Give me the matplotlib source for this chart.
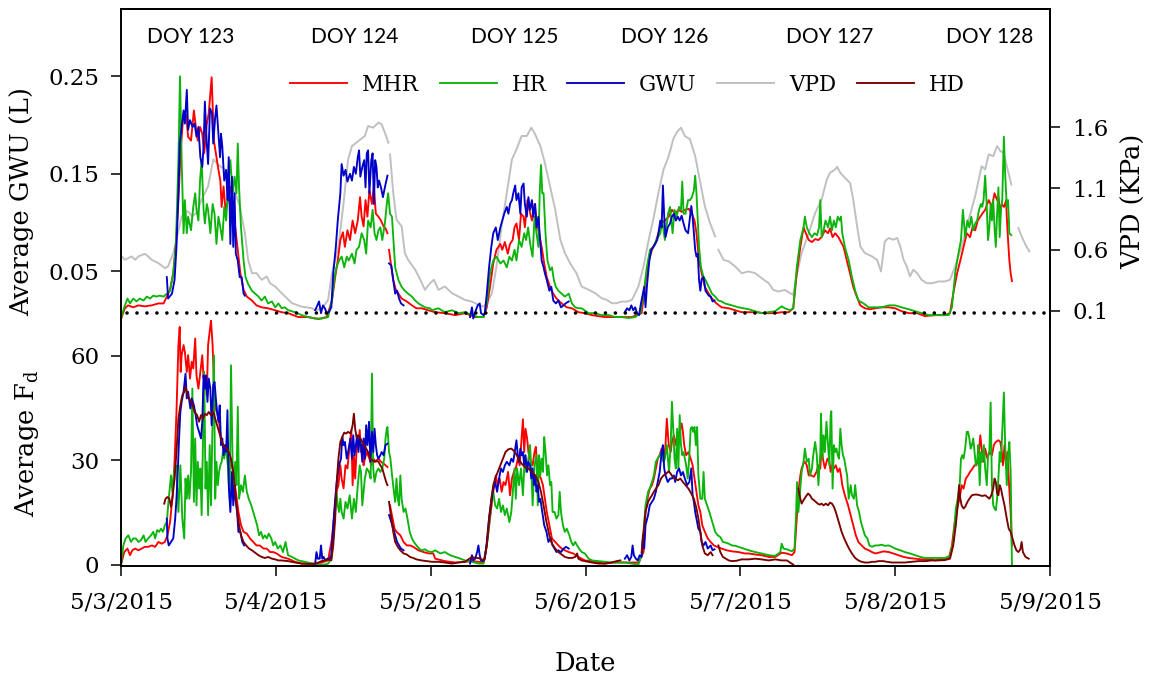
import numpy as np
import matplotlib
matplotlib.use("Agg")
import matplotlib.pyplot as plt
import matplotlib.transforms as mtransforms

nan = float("nan")

# hours since 5/3/2015 00:00 and value; nan marks a gap in the record
# ---- top panel: VPD (KPa)
vpd = [(0.1, .545), (0.6, .517), (1.65, .545), (2.2, .517), (2.7, .545), (3.7, .566), (4.2, .545),
       (4.75, .517), (5.8, .49), (6.8, .449), (7.3, .463), (8.1, .572), (8.6, .681), (9.4, .872),
       (9.9, .899), (10.4, .913), (11.0, .872), (11.7, .899), (12.5, 1.008), (13.5, 1.117),
       (14.3, 1.336), (14.8, 1.308), (15.35, 1.281), (16.1, 1.254), (16.9, 1.145), (17.7, 1.063),
       (18.4, .954), (19.2, .736), (19.7, .517), (20.3, .408), (21.0, .408), (21.8, .354),
       (22.6, .381), (23.1, .326), (23.9, .299), (24.9, .245), (26.5, .163), (28.0, .135),
       (29.6, .122), (30.1, .108), (31.1, .114), (32.1, .19), (32.7, .408), (33.7, .626),
       (34.5, .981), (35.2, 1.336), (35.8, 1.445), (36.8, 1.486), (37.8, 1.527), (38.3, 1.608),
       (39.1, 1.595), (39.9, 1.636), (40.4, 1.622), (40.9, 1.554), (41.45, 1.472), (41.6, nan),
       (41.7, 1.377), (42.2, 1.063), (42.7, .845), (43.5, .79), (44.0, .572), (44.5, .517),
       (45.6, .436), (46.4, .354), (47.1, .272), (47.9, .326), (48.5, .354), (49.2, .272),
       (50.2, .299), (51.3, .245), (52.3, .217), (53.3, .19), (54.4, .176), (55.4, .149),
       (56.2, .135), (56.7, .163), (57.5, .245), (58.2, .463), (59.0, .79), (59.8, 1.063),
       (60.6, 1.336), (61.3, 1.418), (62.1, 1.527), (62.9, 1.527), (63.6, 1.595), (64.2, 1.54),
       (65.0, 1.445), (65.7, 1.308), (66.5, 1.117), (67.3, .927), (68.1, .681), (68.8, .572),
       (69.6, .49), (70.6, .408), (71.4, .299), (72.5, .272), (73.5, .245), (74.5, .204),
       (75.3, .19), (76.1, .163), (76.8, .163), (77.6, .176), (78.4, .176), (79.2, .19),
       (80.2, .299), (81.0, .463), (81.8, .681), (82.5, .845), (83.3, 1.063), (84.1, 1.254),
       (84.9, 1.363), (85.6, 1.5), (86.1, 1.554), (86.8, 1.595), (87.4, 1.527), (88.2, 1.5),
       (89.0, 1.363), (89.8, 1.145), (90.5, .954), (91.3, .817), (92.1, .708), (92.3, nan),
       (92.6, .599), (93.4, .517), (94.2, .504), (95.2, .463), (96.2, .408), (97.3, .422),
       (98.3, .408), (99.3, .367), (100.4, .326), (101.1, .272), (101.9, .258), (102.9, .272),
       (103.7, .245), (104.2, .231), (104.7, .381), (105.5, .572), (106.6, .736), (107.6, .899),
       (108.6, 1.008), (109.4, 1.172), (109.9, 1.227), (110.7, 1.254), (111.0, 1.276),
       (111.5, 1.227), (112.2, 1.186), (113.0, 1.145), (113.5, 1.008), (114.1, .79), (114.6, .626),
       (115.3, .572), (116.4, .545), (117.2, .517), (117.8, .422), (118.4, .667), (119.0, .695),
       (119.7, .681), (120.3, .695), (120.8, .626), (121.3, .517), (121.8, .463), (122.3, .381),
       (122.8, .436), (123.4, .408), (124.1, .354), (124.9, .326), (125.7, .326), (126.7, .34),
       (127.7, .34), (128.5, .354), (129.3, .463), (130.3, .626), (131.4, .845), (132.4, 1.036),
       (133.4, 1.281), (133.95, 1.254), (134.5, 1.377), (135.2, 1.363), (135.8, 1.445),
       (136.3, 1.404), (136.8, 1.39), (137.3, 1.281), (138.0, 1.131), (138.5, nan),
       (139.1, .776), (139.6, .708), (140.2, .64), (140.8, .586)]

# ---- top panel: average GWU (L)
gwu_mhr = [(0.0, .001), (0.6, .012), (1.1, .015), (1.9, .013), (2.7, .015), (3.7, .014), (4.75, .015),
           (5.8, .017), (6.6, .017), (7.1, .024), (7.6, .031), (8.1, .048), (8.5, .078), (8.9, .123),
           (9.25, .174), (9.6, .205), (9.8, .212), (10.1, .21), (10.4, .188), (10.85, .184),
           (11.3, .215), (11.6, .198), (11.9, .184), (12.25, .198), (12.6, .191), (12.9, .171),
           (13.3, .201), (13.6, .212), (14.05, .249), (14.4, .184), (14.7, .171), (15.1, .154),
           (15.4, .143), (15.6, .116), (15.9, .137), (16.2, .113), (16.6, .123), (17.05, .137),
           (17.4, .113), (17.8, .089), (18.1, .072), (18.5, .048), (19.0, .031), (19.5, .024),
           (20.3, .02), (21.0, .015), (21.8, .013), (22.8, .012), (23.9, .01), (24.9, .008),
           (25.9, .007), (27.5, .003), (29.0, .003), (30.6, .001), (31.9, .003), (32.7, .02),
           (33.2, .044), (33.6, .061), (34.0, .082), (34.4, .09), (34.7, .075), (35.1, .092),
           (35.5, .082), (35.9, .102), (36.3, .089), (36.7, .102), (37.05, .126), (37.3, .106),
           (37.6, .096), (37.9, .123), (38.2, .106), (38.5, .133), (38.9, .119), (39.2, .137),
           (39.5, .109), (39.9, .106), (40.3, .102), (40.7, .096), (41.0, .094), (41.3, .089),
           (41.45, nan), (41.55, .072), (41.9, .054), (42.2, .041), (42.6, .031), (43.0, .027),
           (43.5, .022), (44.3, .019), (45.1, .015), (45.8, .012), (46.6, .012), (47.6, .01),
           (48.7, .008), (50.2, .007), (51.8, .005), (53.3, .007), (54.9, .003), (56.2, .003),
           (56.7, .013), (57.2, .034), (57.7, .058), (58.2, .072), (58.8, .078), (59.1, .072),
           (59.5, .08), (59.95, .068), (60.3, .078), (60.7, .082), (61.0, .095), (61.3, .099),
           (61.7, .082), (62.0, .109), (62.4, .106), (62.6, .095), (63.0, .123), (63.3, .113),
           (63.7, .102), (64.1, .119), (64.4, .102), (64.8, .089), (65.2, .075), (65.6, .058),
           (66.0, .044), (66.5, .034), (67.0, .027), (67.5, .022), (68.3, .017), (69.1, .013),
           (69.9, .012), (70.9, .008), (71.9, .007), (73.0, .005), (75.0, .003), (77.1, .003),
           (79.2, .003), (80.7, .007), (81.2, .034), (81.8, .061), (82.3, .072), (82.8, .078),
           (83.3, .089), (83.8, .099), (84.3, .102), (84.9, .106), (85.4, .113), (85.9, .109),
           (86.4, .113), (86.9, .111), (87.4, .113), (88.0, .114), (88.5, .109), (88.9, .102),
           (89.2, .089), (89.6, .061), (90.0, .048), (90.5, .034), (91.1, .027), (91.6, .022),
           (92.3, .017), (93.1, .013), (94.2, .012), (95.2, .01), (96.2, .008), (98.3, .008),
           (99.8, .007), (101.4, .007), (102.4, .008), (103.5, .008), (104.2, .012), (104.75, .048),
           (105.3, .075), (105.8, .095), (106.15, .089), (106.6, .082), (107.1, .08), (107.6, .083),
           (108.1, .082), (108.6, .085), (109.1, .092), (109.6, .089), (109.9, .094), (110.3, .085),
           (110.7, .089), (111.2, .085), (111.6, .08), (112.0, .075), (112.5, .061), (113.0, .048),
           (113.5, .034), (114.05, .024), (114.6, .015), (115.3, .012), (116.1, .011), (116.9, .012),
           (117.9, .013), (119.0, .013), (120.0, .012), (121.0, .009), (122.1, .007), (123.4, .007),
           (124.6, .004), (126.2, .005), (127.7, .005), (128.5, .007), (129.0, .027), (129.6, .048),
           (130.1, .061), (130.6, .075), (131.1, .089), (131.6, .085), (132.0, .095), (132.4, .092),
           (132.8, .102), (133.2, .106), (133.5, .109), (133.95, .113), (134.5, .123), (135.0, .116),
           (135.4, .13), (135.8, .123), (136.0, .126), (136.3, .109), (136.5, .119), (136.9, .116),
           (137.2, .123), (137.3, .106), (137.5, .082), (137.7, .061), (137.9, .048), (138.1, .04)]

gwu_hr = [(0.0, .0015), (0.5, .013), (1.0, .022), (1.4, .017), (1.9, .022), (2.4, .019), (2.9, .022),
          (3.5, .02), (4.0, .024), (4.5, .022), (5.0, .025), (5.5, .024), (6.0, .025), (6.6, .024),
          (7.1, .027), (7.6, .03), (8.1, .048), (8.5, .075), (8.9, .164), (9.15, .25), (9.4, .164),
          (9.7, .089), (9.9, .123), (10.2, .089), (10.4, .106), (10.85, .092), (11.2, .116),
          (11.5, .13), (11.7, .113), (12.0, .102), (12.25, .143), (12.5, .164), (12.8, .113),
          (13.0, .099), (13.3, .119), (13.5, .113), (13.85, .089), (14.2, .119), (14.5, .109),
          (14.8, .078), (15.1, .106), (15.4, .095), (15.7, .082), (16.0, .116), (16.3, .102),
          (16.6, .136), (16.95, .164), (17.3, .13), (17.6, .147), (17.9, .13), (18.1, .181),
          (18.3, .136), (18.6, .095), (19.0, .061), (19.3, .044), (19.7, .037), (20.3, .03),
          (20.8, .027), (21.3, .024), (21.8, .02), (22.3, .024), (22.8, .017), (23.4, .019),
          (23.9, .013), (24.4, .017), (24.9, .012), (25.4, .013), (25.9, .01), (27.0, .008),
          (28.0, .005), (29.0, .003), (30.1, .0015), (31.1, .0015), (32.1, .003), (32.7, .02),
          (33.1, .044), (33.4, .054), (33.8, .061), (34.2, .065), (34.6, .054), (35.0, .065),
          (35.3, .061), (35.8, .068), (36.2, .058), (36.5, .072), (36.9, .075), (37.3, .089),
          (37.7, .082), (38.0, .068), (38.3, .102), (38.7, .095), (39.0, .113), (39.3, .089),
          (39.6, .082), (39.9, .092), (40.2, .095), (40.5, .082), (40.9, .099), (41.2, .119),
          (41.4, .13), (41.7, .109), (42.0, .106), (42.5, .054), (43.0, .041), (43.5, .034),
          (44.0, .03), (44.5, .027), (45.1, .024), (45.6, .02), (46.1, .017), (46.6, .015),
          (47.1, .013), (47.9, .012), (48.2, .01), (49.2, .012), (50.2, .008), (51.3, .01),
          (52.3, .007), (53.3, .008), (54.4, .005), (55.4, .003), (56.2, .003), (56.7, .017),
          (57.2, .048), (57.7, .061), (58.2, .065), (58.8, .058), (59.3, .061), (59.8, .054),
          (60.2, .065), (60.6, .061), (61.0, .072), (61.3, .061), (61.7, .082), (62.1, .075),
          (62.5, .089), (62.8, .082), (63.1, .095), (63.5, .075), (63.8, .065), (64.1, .106),
          (64.4, .089), (64.7, .075), (64.9, .13), (65.1, .159), (65.3, .13), (65.5, .13),
          (65.8, .089), (66.1, .061), (66.5, .051), (66.8, .054), (67.1, .041), (67.4, .034),
          (67.8, .03), (68.3, .027), (68.8, .024), (69.4, .027), (69.9, .017), (70.4, .013),
          (70.9, .012), (71.4, .012), (72.5, .007), (73.5, .007), (74.5, .005), (75.6, .005),
          (76.6, .003), (77.6, .003), (78.7, .002), (79.7, .003), (80.5, .007), (81.0, .027),
          (81.5, .054), (82.0, .072), (82.5, .075), (83.0, .082), (83.6, .089), (83.9, .102),
          (84.3, .082), (84.8, .109), (85.1, .116), (85.5, .089), (85.8, .113), (86.1, .106),
          (86.5, .116), (86.8, .113), (87.0, .142), (87.2, .109), (87.5, .109), (87.9, .123),
          (88.2, .123), (88.5, .126), (88.8, .133), (89.0, .148), (89.2, .13), (89.4, .102),
          (89.6, .075), (89.9, .054), (90.3, .044), (90.6, .041), (91.1, .034), (91.6, .027),
          (92.1, .024), (92.6, .02), (93.1, .019), (93.6, .017), (94.7, .015), (95.7, .013),
          (97.3, .011), (98.3, .009), (99.3, .007), (100.4, .008), (101.4, .009), (102.4, .014),
          (102.9, .012), (103.7, .01), (104.2, .012), (104.75, .054), (105.3, .082), (105.8, .095),
          (106.0, .106), (106.3, .095), (106.7, .089), (107.1, .085), (107.5, .089), (107.9, .087),
          (108.2, .095), (108.4, .123), (108.6, .085), (108.9, .092), (109.2, .102), (109.6, .095),
          (109.9, .106), (110.2, .092), (110.5, .102), (110.8, .095), (111.1, .106), (111.4, .102),
          (111.6, .106), (111.8, .089), (112.2, .075), (112.8, .061), (113.3, .044), (113.8, .03),
          (114.3, .02), (115.1, .017), (115.9, .013), (116.9, .013), (117.9, .013), (119.0, .015),
          (120.0, .015), (121.0, .013), (122.1, .011), (123.1, .009), (124.1, .007), (125.2, .005),
          (126.2, .005), (127.2, .005), (128.3, .005), (128.8, .013), (129.3, .048), (129.8, .068),
          (130.2, .082), (130.5, .113), (130.85, .085), (131.2, .102), (131.5, .095), (131.8, .106),
          (132.1, .092), (132.4, .099), (132.7, .102), (133.0, .113), (133.3, .119), (133.5, .116),
          (133.7, .123), (133.95, .148), (134.15, .123), (134.4, .082), (134.6, .095), (134.8, .119),
          (135.0, .102), (135.2, .123), (135.4, .095), (135.6, .075), (135.8, .109), (136.0, .136),
          (136.2, .085), (136.4, .113), (136.6, .123), (136.85, .188), (137.05, .15), (137.3, .116),
          (137.5, .123), (137.7, .089), (138.0, .087)]

gwu_gwu = [(7.1, .044), (7.3, .022), (7.9, .027), (8.3, .041), (8.6, .075), (8.9, .13), (9.1, .181),
           (9.4, .198), (9.7, .215), (9.9, .2015), (10.2, .236), (10.4, .195), (10.7, .205),
           (11.1, .198), (11.4, .2015), (11.7, .188), (12.0, .198), (12.3, .167), (12.6, .157),
           (12.8, .178), (13.0, .224), (13.3, .181), (13.5, .16), (13.8, .217), (14.1, .212),
           (14.3, .181), (14.6, .208), (14.8, .22), (15.1, .191), (15.35, .167), (15.5, .191),
           (15.7, .178), (16.0, .143), (16.3, .154), (16.5, .123), (16.7, .167), (16.95, .078),
           (17.2, .147), (17.4, .075), (17.6, .13), (17.8, .068), (18.1, .061), (18.4, .044),
           (18.7, .044), (19.0, .027), (19.2, .025), (19.5, nan),
           (30.1, .01), (30.3, .013), (30.7, .019), (31.0, .007), (31.3, .015), (31.6, .012),
           (31.9, .007), (32.2, .008), (32.6, .013), (32.9, .048), (33.3, .075), (33.6, .102),
           (34.0, .13), (34.2, .16), (34.5, .148), (34.8, .154), (35.1, .142), (35.5, .15),
           (35.8, .143), (36.1, .157), (36.4, .15), (36.7, .167), (36.9, .174), (37.1, .147),
           (37.4, .157), (37.7, .164), (37.9, .136), (38.1, .171), (38.3, .174), (38.5, .13),
           (38.8, .164), (39.0, .171), (39.2, .119), (39.4, .164), (39.6, .157), (39.8, .136),
           (40.0, .143), (40.3, .136), (40.6, .126), (40.9, .136), (41.3, .148), (41.45, nan),
           (41.55, .058), (41.9, .056), (42.2, .041), (42.5, .027), (42.8, .03), (43.1, .022),
           (43.4, .017), (43.8, .015), (44.0, nan),
           (54.1, .003), (54.4, .013), (54.6, .0015), (55.0, .01), (55.3, .015), (55.6, .017),
           (55.8, .007), (56.2, .005), (56.4, .007), (56.7, .027), (57.05, .054), (57.4, .075),
           (57.7, .089), (58.1, .095), (58.4, .082), (58.8, .095), (59.1, .102), (59.4, .109),
           (59.8, .116), (60.05, .109), (60.3, .119), (60.6, .123), (60.8, .13), (61.1, .138),
           (61.3, .123), (61.6, .13), (61.9, .109), (62.1, .136), (62.4, .14), (62.6, .119),
           (62.9, .106), (63.15, .126), (63.4, .113), (63.7, .123), (63.9, .106), (64.2, .119),
           (64.4, .095), (64.7, .106), (64.96, .082), (65.2, .061), (65.5, .054), (65.7, .048),
           (66.0, .041), (66.4, .03), (66.7, .034), (67.0, .02), (67.4, .017), (67.8, .02),
           (68.2, .013), (68.6, .015), (68.9, .017), (69.4, .019), (69.6, nan),
           (78.1, .008), (78.45, .012), (78.8, .01), (79.1, .015), (79.4, .01), (79.7, .013),
           (80.0, .007), (80.3, .005), (80.6, .017), (80.9, .027), (81.1, .034), (81.3, .013),
           (81.55, .037), (81.9, .061), (82.2, .072), (82.5, .075), (82.8, .078), (83.1, .082),
           (83.3, .089), (83.6, .102), (83.8, .095), (84.0, .138), (84.2, .106), (84.4, .085),
           (84.75, .095), (85.1, .099), (85.4, .106), (85.7, .109), (86.0, .102), (86.3, .106),
           (86.6, .102), (86.9, .107), (87.2, .099), (87.5, .092), (87.9, .089), (88.2, .106),
           (88.4, .117), (88.6, .106), (88.8, .089), (89.0, .072), (89.2, .065), (89.4, .068),
           (89.6, .041), (89.8, .03), (90.0, .042), (90.3, .044), (90.6, .03), (91.1, .025),
           (91.4, .024), (91.7, .019), (92.0, .02)]

# ---- bottom panel: average Fd
fd_mhr = [(0.0, 0), (0.5, 3.7), (1.0, 4.7), (1.4, 2.8), (1.75, 4.2), (2.2, 4.7), (2.7, 4.2), (3.2, 4.7),
          (3.7, 5.2), (4.2, 5.2), (4.8, 5.6), (5.3, 5.2), (5.8, 6.6), (6.3, 6.1), (6.8, 6.6), (7.2, 8.5),
          (7.6, 12.3), (8.0, 20.0), (8.3, 29.6), (8.6, 43.9), (8.9, 63.1), (9.1, 68.3), (9.25, 55.4),
          (9.4, 60.2), (9.7, 63.1), (9.9, 61.1), (10.2, 55.4), (10.4, 60.2), (10.7, 53.5),
          (10.96, 58.3), (11.2, 56.4), (11.5, 65.0), (11.7, 54.4), (12.0, 50.6), (12.3, 55.4),
          (12.6, 60.2), (12.8, 53.5), (13.0, 54.4), (13.3, 48.7), (13.5, 63.1), (13.75, 66.9),
          (13.95, 70.2), (14.2, 63.1), (14.4, 52.5), (14.6, 44.9), (14.9, 43.9), (15.2, 41.1),
          (15.5, 36.3), (15.8, 34.4), (16.1, 32.4), (16.4, 31.5), (16.7, 30.5), (17.2, 28.6),
          (17.5, 24.8), (17.8, 21.0), (18.2, 15.2), (18.6, 11.4), (19.0, 9.5), (19.5, 9.0),
          (20.0, 7.6), (20.5, 6.6), (21.0, 5.6), (21.5, 5.6), (22.1, 4.7), (22.6, 4.7), (23.1, 3.7),
          (23.6, 3.7), (24.1, 3.3), (24.9, 2.3), (25.9, 1.8), (27.0, 0.9), (28.0, 0.4), (29.0, 0.4),
          (30.1, 0.4), (31.1, 0.7), (32.1, 1.3), (32.7, 7.6), (33.1, 15.2), (33.4, 21.0),
          (33.7, 22.9), (34.0, 28.6), (34.2, 24.8), (34.5, 22.0), (34.8, 28.6), (35.1, 27.7),
          (35.45, 34.4), (35.7, 38.7), (35.9, 22.9), (36.1, 31.5), (36.3, 24.8), (36.6, 36.3),
          (36.8, 34.4), (37.0, 38.7), (37.2, 32.4), (37.4, 34.4), (37.6, 28.6), (37.8, 30.5),
          (38.1, 32.4), (38.5, 30.5), (38.8, 28.6), (39.1, 30.5), (39.5, 29.6), (39.9, 30.5),
          (40.3, 29.6), (40.7, 29.1), (41.0, 28.6), (41.3, 28.1), (41.5, nan), (41.7, 17.1),
          (42.1, 13.3), (42.4, 10.4), (42.7, 9.5), (43.3, 8.5), (43.8, 6.6), (44.3, 5.6), (44.8, 5.6),
          (45.3, 5.2), (46.1, 4.2), (46.9, 3.7), (47.7, 3.3), (48.4, 3.3), (48.7, 1.8), (50.2, 1.1),
          (51.8, 0.7), (53.3, 0.9), (54.4, 1.1), (55.4, 0.9), (56.2, 0.7), (56.7, 5.6), (57.2, 13.3),
          (57.7, 21.0), (58.1, 25.7), (58.4, 22.9), (58.7, 24.8), (59.0, 21.0), (59.3, 23.8),
          (59.6, 22.9), (60.0, 26.7), (60.3, 20.0), (60.6, 24.8), (60.9, 26.7), (61.2, 27.7),
          (61.5, 30.5), (61.8, 28.6), (62.1, 36.3), (62.3, 41.8), (62.5, 32.4), (62.7, 39.1),
          (62.95, 36.3), (63.15, 32.4), (63.5, 29.6), (63.8, 28.6), (64.1, 32.4), (64.3, 33.9),
          (64.5, 28.6), (64.8, 25.7), (65.1, 24.8), (65.4, 22.9), (65.7, 19.0), (66.0, 15.2),
          (66.4, 11.4), (66.8, 7.6), (67.3, 6.6), (67.8, 5.6), (68.3, 4.7), (68.8, 4.2), (69.4, 3.7),
          (70.1, 3.3), (70.9, 2.3), (71.9, 1.3), (73.0, 1.1), (74.0, 0.7), (75.0, 0.4), (76.1, 0.7),
          (77.1, 0.7), (78.1, 0.7), (79.2, 0.7), (80.2, 0.7), (81.0, 3.7), (81.3, 15.2), (81.7, 20.0),
          (81.96, 21.9), (82.3, 22.9), (82.6, 24.8), (82.9, 27.7), (83.2, 30.5), (83.5, 31.5),
          (83.8, 33.4), (84.1, 29.6), (84.4, 34.4), (84.6, 42.0), (84.9, 34.4), (85.2, 32.4),
          (85.4, 35.3), (85.7, 37.2), (86.0, 34.4), (86.3, 38.2), (86.5, 36.3), (86.7, 39.1),
          (86.9, 40.6), (87.1, 38.2), (87.3, 34.4), (87.6, 31.5), (87.96, 32.4), (88.3, 30.5),
          (88.6, 28.6), (88.9, 24.8), (89.2, 21.0), (89.5, 17.1), (89.8, 15.2), (90.1, 11.4),
          (90.5, 9.5), (90.95, 7.6), (91.4, 6.6), (91.9, 5.6), (92.4, 5.2), (93.1, 4.7), (93.9, 4.2),
          (94.7, 3.9), (95.7, 3.7), (96.7, 3.3), (97.3, 3.3), (98.3, 3.0), (99.3, 2.8), (100.4, 2.3),
          (101.4, 2.3), (102.4, 3.5), (103.2, 3.3), (104.0, 2.8), (104.4, 3.7), (104.75, 13.3),
          (105.0, 21.0), (105.3, 25.7), (105.5, 27.7), (105.8, 29.1), (106.0, 29.6), (106.3, 28.6),
          (106.6, 25.7), (107.0, 25.7), (107.4, 25.3), (107.8, 26.7), (108.1, 28.6), (108.4, 27.7),
          (108.6, 34.4), (108.8, 30.5), (109.1, 27.7), (109.5, 30.5), (109.8, 29.6), (110.0, 26.7),
          (110.2, 28.6), (110.5, 27.7), (110.8, 28.6), (111.1, 26.7), (111.4, 27.7), (111.6, 25.7),
          (111.8, 22.9), (112.2, 20.0), (112.7, 17.1), (113.1, 14.3), (113.5, 11.4), (113.9, 8.5),
          (114.3, 6.6), (114.8, 5.6), (115.3, 4.7), (115.9, 4.2), (116.4, 3.7), (116.9, 3.3),
          (117.4, 3.5), (118.2, 3.9), (119.0, 3.7), (119.7, 3.3), (120.5, 2.8), (121.3, 2.3),
          (122.1, 2.0), (123.1, 1.8), (124.1, 1.6), (125.2, 1.6), (126.2, 1.3), (127.2, 1.6),
          (128.3, 1.8), (128.8, 5.6), (129.3, 13.3), (129.7, 17.1), (130.0, 19.0), (130.3, 22.9),
          (130.6, 21.9), (130.95, 24.8), (131.3, 25.7), (131.6, 26.7), (132.0, 27.7), (132.3, 28.6),
          (132.6, 28.6), (132.9, 30.5), (133.2, 37.2), (133.4, 33.4), (133.7, 29.6), (133.95, 33.4),
          (134.3, 30.5), (134.6, 32.4), (135.0, 31.5), (135.3, 34.4), (135.6, 35.3), (136.0, 35.8),
          (136.3, 35.3), (136.5, 32.9), (136.7, 28.6), (136.95, 34.4), (137.2, 27.7), (137.4, 32.4),
          (137.6, 24.8), (137.9, 15.2), (138.1, 5.6)]

fd_hr = [(0.0, 0), (0.36, 5.6), (0.72, 7.6), (1.14, 8.5), (1.55, 6.6), (1.9, 7.6), (2.3, 7.6), (2.7, 6.6),
         (3.1, 7.1), (3.5, 8.5), (3.8, 6.6), (4.2, 7.6), (4.65, 8.5), (5.0, 9.5), (5.3, 7.6), (5.6, 10.0),
         (5.9, 9.5), (6.2, 10.4), (6.5, 9.5), (6.8, 11.4), (7.1, 12.3), (7.4, 19.0), (7.75, 25.7),
         (7.96, 21.0), (8.3, 27.7), (8.5, 28.6), (8.7, 22.9), (8.9, 15.2), (9.2, 28.6), (9.5, 13.3),
         (9.8, 7.6), (10.0, 24.8), (10.2, 19.0), (10.4, 25.7), (10.6, 19.0), (10.85, 26.7),
         (11.06, 50.6), (11.3, 18.1), (11.5, 36.3), (11.7, 17.1), (11.9, 29.6), (12.1, 21.9),
         (12.3, 27.7), (12.5, 14.3), (12.7, 34.4), (12.9, 55.4), (13.1, 21.9), (13.3, 29.6),
         (13.5, 14.3), (13.75, 34.4), (13.95, 17.1), (14.2, 42.0), (14.4, 60.2), (14.6, 19.0),
         (14.8, 29.6), (15.0, 22.9), (15.2, 26.7), (15.4, 28.6), (15.6, 29.6), (15.8, 32.4),
         (16.0, 30.5), (16.2, 34.4), (16.4, 31.5), (16.6, 27.7), (16.85, 19.0), (17.05, 57.3),
         (17.3, 29.6), (17.5, 21.9), (17.7, 29.6), (17.9, 22.9), (18.1, 45.4), (18.3, 19.0),
         (18.6, 22.9), (18.9, 21.0), (19.2, 25.7), (19.5, 21.0), (19.8, 19.0), (20.2, 17.1),
         (20.5, 15.2), (20.8, 13.3), (21.1, 11.4), (21.4, 8.5), (21.7, 9.5), (22.0, 7.6), (22.3, 8.5),
         (22.6, 7.6), (22.9, 9.0), (23.3, 7.6), (23.6, 5.6), (23.9, 6.6), (24.3, 4.7), (24.7, 5.6),
         (25.1, 3.7), (25.5, 6.6), (25.9, 2.8), (26.5, 2.3), (27.0, 1.8), (27.5, 1.3), (28.0, 1.1),
         (28.5, 0.9), (29.0, 0.7), (29.6, 0.4), (30.1, 0.4), (30.9, 0.1), (31.6, 0.1), (32.1, 0.4),
         (32.6, 1.8), (32.9, 7.6), (33.2, 15.2), (33.4, 21.0), (33.6, 17.1), (33.8, 15.2),
         (34.0, 19.0), (34.2, 15.2), (34.5, 13.3), (34.8, 18.1), (35.1, 16.2), (35.45, 20.0),
         (35.8, 13.3), (36.1, 19.0), (36.4, 15.2), (36.7, 22.9), (37.0, 28.6), (37.2, 26.7),
         (37.4, 17.1), (37.6, 21.0), (37.8, 24.8), (38.1, 27.7), (38.45, 26.7), (38.7, 24.8),
         (38.9, 54.9), (39.1, 27.7), (39.3, 23.8), (39.6, 26.7), (39.9, 27.7), (40.2, 26.7),
         (40.5, 27.7), (40.8, 30.5), (41.0, 36.3), (41.2, 39.1), (41.3, 39.6), (41.55, 32.4),
         (41.76, 30.5), (41.96, 26.7), (42.3, 21.0), (42.5, 18.1), (42.7, 24.8), (42.9, 19.0),
         (43.1, 17.1), (43.3, 25.7), (43.5, 19.0), (43.8, 15.2), (44.1, 16.2), (44.4, 13.3),
         (44.75, 9.5), (45.1, 7.6), (45.4, 6.6), (45.8, 5.6), (46.2, 4.7), (46.6, 4.2), (47.1, 4.5),
         (47.6, 3.9), (48.2, 3.7), (48.7, 4.2), (49.5, 3.3), (50.2, 3.7), (51.0, 2.8), (51.8, 2.3),
         (52.6, 1.8), (53.3, 1.3), (54.4, 0.9), (55.4, 0.4), (56.2, 0.4), (56.7, 5.6), (57.05, 11.4),
         (57.4, 18.1), (57.7, 21.0), (58.0, 17.1), (58.3, 16.2), (58.6, 19.0), (58.9, 15.2),
         (59.2, 17.1), (59.5, 14.3), (59.8, 16.2), (60.2, 12.3), (60.5, 15.2), (60.8, 22.9),
         (61.0, 27.7), (61.2, 19.0), (61.4, 27.7), (61.7, 22.9), (62.0, 27.7), (62.3, 20.0),
         (62.6, 31.5), (62.8, 26.7), (63.15, 30.5), (63.4, 34.4), (63.6, 27.7), (63.8, 17.1),
         (64.1, 28.6), (64.4, 31.5), (64.6, 17.1), (64.8, 31.5), (65.0, 25.7), (65.2, 30.5),
         (65.4, 26.7), (65.6, 36.7), (65.8, 32.4), (66.05, 25.7), (66.25, 28.6), (66.5, 22.9),
         (66.7, 23.8), (66.9, 15.2), (67.2, 15.2), (67.5, 13.3), (67.8, 14.3), (68.0, 21.0),
         (68.2, 15.2), (68.5, 11.4), (68.8, 9.5), (69.1, 10.4), (69.5, 8.5), (69.8, 6.6), (70.1, 5.6),
         (70.4, 6.6), (70.7, 5.6), (71.0, 4.7), (71.4, 3.7), (71.9, 3.3), (72.5, 1.8), (73.0, 1.3),
         (74.0, 1.1), (75.0, 0.9), (76.1, 0.7), (77.1, 0.7), (78.1, 0.7), (79.2, 0.4), (80.2, 0.1),
         (80.7, 2.8), (81.0, 9.5), (81.3, 17.1), (81.7, 21.0), (81.96, 21.9), (82.3, 23.8),
         (82.6, 25.7), (82.9, 29.6), (83.2, 30.5), (83.5, 31.5), (83.8, 32.4), (84.1, 29.6),
         (84.3, 30.5), (84.6, 34.4), (84.95, 26.7), (85.2, 34.4), (85.4, 46.8), (85.6, 39.1),
         (85.8, 30.5), (86.0, 27.7), (86.2, 39.1), (86.4, 27.7), (86.6, 43.0), (86.8, 34.4),
         (87.0, 31.5), (87.2, 32.4), (87.4, 30.5), (87.6, 28.6), (87.85, 24.8), (88.1, 31.5),
         (88.3, 39.1), (88.5, 39.6), (88.7, 38.2), (88.9, 39.6), (89.1, 34.4), (89.3, 39.6),
         (89.5, 25.7), (89.8, 19.0), (90.1, 19.0), (90.3, 26.7), (90.5, 19.0), (90.85, 17.1),
         (91.2, 15.2), (91.5, 13.3), (91.8, 11.4), (92.1, 9.5), (92.5, 8.5), (92.9, 8.0), (93.3, 6.6),
         (93.75, 6.4), (94.2, 6.1), (94.7, 5.6), (95.2, 5.5), (95.7, 5.2), (96.2, 4.9), (97.3, 4.2),
         (98.3, 3.7), (99.3, 3.3), (100.4, 2.8), (101.4, 2.6), (102.2, 3.7), (102.4, 6.1),
         (102.7, 4.7), (103.2, 4.5), (104.0, 3.9), (104.4, 4.7), (104.65, 15.2), (104.8, 23.8),
         (105.0, 15.2), (105.3, 21.9), (105.5, 26.7), (105.8, 29.6), (106.0, 33.4), (106.3, 29.6),
         (106.6, 30.5), (106.8, 25.7), (107.1, 27.7), (107.3, 31.5), (107.6, 35.3), (107.85, 31.5),
         (108.1, 22.9), (108.4, 32.4), (108.5, 43.4), (108.7, 30.5), (108.9, 37.2), (109.1, 32.4),
         (109.35, 41.1), (109.6, 34.4), (109.8, 28.6), (110.0, 43.0), (110.1, 44.1), (110.3, 21.9),
         (110.5, 34.4), (110.7, 32.4), (110.9, 33.4), (111.1, 31.5), (111.3, 30.5), (111.5, 39.1),
         (111.7, 34.4), (111.9, 31.5), (112.1, 30.5), (112.35, 27.7), (112.55, 25.7), (112.8, 19.0),
         (113.1, 22.9), (113.3, 20.0), (113.6, 19.0), (113.8, 22.9), (114.1, 17.1), (114.4, 15.2),
         (114.7, 12.3), (115.0, 10.4), (115.3, 8.5), (115.7, 7.6), (116.0, 5.6), (116.4, 5.2),
         (116.9, 5.6), (117.4, 5.6), (117.9, 5.8), (118.4, 5.5), (119.0, 5.6), (119.5, 5.2),
         (120.0, 4.7), (120.8, 4.2), (121.5, 3.7), (122.3, 3.3), (123.1, 2.8), (123.9, 2.3),
         (124.6, 2.0), (125.7, 2.0), (126.7, 2.0), (127.7, 2.0), (128.5, 2.6), (129.0, 6.6),
         (129.4, 16.2), (129.7, 19.0), (130.0, 22.9), (130.2, 30.5), (130.4, 31.5), (130.6, 30.5),
         (130.85, 33.4), (131.1, 38.2), (131.3, 38.2), (131.5, 36.3), (131.7, 33.4), (131.9, 34.4),
         (132.1, 36.3), (132.3, 32.4), (132.5, 28.6), (132.7, 29.6), (132.9, 34.4), (133.1, 22.9),
         (133.3, 32.4), (133.5, 29.6), (133.75, 34.4), (133.95, 27.7), (134.2, 22.9), (134.4, 31.5),
         (134.6, 32.4), (134.8, 46.6), (135.0, 22.9), (135.2, 17.1), (135.4, 16.2), (135.6, 15.7),
         (135.8, 19.0), (136.0, 24.8), (136.2, 32.4), (136.4, 29.6), (136.6, 38.2), (136.85, 49.5),
         (137.05, 34.4), (137.3, 22.9), (137.5, 31.5), (137.7, 35.3), (137.9, 26.7), (138.1, 0.0)]

fd_gwu = [(7.1, 13.3), (7.2, 7.6), (7.4, 5.6), (7.75, 6.6), (8.1, 7.6), (8.4, 13.3), (8.6, 19.0),
          (8.8, 26.7), (9.0, 36.3), (9.2, 43.9), (9.4, 46.8), (9.7, 49.7), (10.0, 54.9), (10.2, 47.8),
          (10.4, 49.7), (10.75, 44.9), (10.96, 47.8), (11.3, 45.8), (11.5, 43.9), (11.8, 40.1),
          (12.1, 38.2), (12.4, 36.3), (12.6, 41.1), (12.8, 54.4), (13.0, 50.6), (13.2, 54.4),
          (13.4, 46.8), (13.6, 53.5), (13.85, 50.6), (14.05, 40.1), (14.3, 51.6), (14.5, 52.5),
          (14.7, 47.8), (14.9, 43.9), (15.1, 41.1), (15.3, 45.8), (15.5, 34.4), (15.7, 36.3),
          (15.9, 31.5), (16.1, 34.4), (16.3, 32.4), (16.5, 44.4), (16.7, 22.9), (16.95, 15.2),
          (17.2, 26.7), (17.4, 17.1), (17.6, 22.9), (17.8, 18.1), (18.0, 15.2), (18.2, 9.5),
          (18.5, 9.5), (18.8, 6.6), (19.1, 5.6), (19.5, nan),
          (30.1, 0.4), (30.3, 3.7), (30.5, 1.8), (30.8, 1.8), (31.0, 5.6), (31.2, 1.8), (31.4, 2.3),
          (31.7, 1.3), (32.0, 1.8), (32.35, 1.8), (32.6, 2.8), (32.9, 11.4), (33.2, 19.0),
          (33.5, 24.8), (33.8, 28.6), (34.1, 30.5), (34.3, 36.7), (34.5, 34.4), (34.7, 35.3),
          (35.0, 30.5), (35.2, 32.4), (35.55, 36.3), (35.8, 30.5), (36.0, 37.2), (36.2, 31.5),
          (36.4, 34.4), (36.6, 37.2), (36.8, 32.4), (37.0, 36.3), (37.2, 34.4), (37.4, 29.6),
          (37.6, 36.3), (37.8, 30.5), (38.0, 40.1), (38.2, 34.4), (38.45, 41.1), (38.65, 29.6),
          (38.9, 38.2), (39.1, 32.4), (39.3, 39.1), (39.5, 34.4), (39.7, 31.5), (39.9, 30.5),
          (40.2, 31.5), (40.4, 32.4), (40.7, 31.5), (41.0, 34.4), (41.3, 34.8), (41.45, nan),
          (41.55, 14.3), (41.9, 12.3), (42.2, 10.4), (42.5, 8.5), (42.8, 6.6), (43.1, 5.6),
          (43.4, 4.7), (43.8, 4.2), (44.0, nan),
          (54.1, 0.4), (54.4, 2.8), (54.6, 1.3), (54.9, 1.8), (55.2, 3.7), (55.4, 5.6), (55.6, 2.8),
          (55.8, 1.3), (56.1, 1.1), (56.4, 1.8), (56.7, 6.6), (57.05, 13.3), (57.4, 18.1),
          (57.7, 21.9), (58.0, 23.8), (58.3, 21.0), (58.6, 24.8), (58.9, 27.7), (59.2, 26.7),
          (59.5, 28.6), (59.8, 29.6), (60.2, 28.6), (60.5, 30.5), (60.8, 29.6), (61.1, 33.4),
          (61.3, 35.8), (61.5, 31.5), (61.7, 29.6), (61.9, 33.4), (62.1, 31.5), (62.3, 32.4),
          (62.5, 28.6), (62.7, 31.5), (62.95, 26.7), (63.15, 29.6), (63.4, 28.6), (63.6, 24.8),
          (63.8, 27.7), (64.0, 22.9), (64.2, 25.7), (64.4, 21.0), (64.6, 22.9), (64.8, 18.1),
          (65.0, 19.0), (65.3, 15.2), (65.6, 11.4), (65.95, 9.5), (66.25, 6.6), (66.6, 7.6),
          (66.9, 5.6), (67.2, 4.7), (67.5, 3.7), (67.8, 4.2), (68.2, 3.7), (68.6, 4.7), (69.0, 5.2),
          (69.4, 4.7), (69.6, nan),
          (78.1, 1.8), (78.45, 2.8), (78.8, 1.3), (79.1, 2.3), (79.3, 5.6), (79.5, 2.8), (79.8, 1.8),
          (80.1, 1.3), (80.4, 2.8), (80.7, 2.3), (80.9, 8.5), (81.1, 4.7), (81.3, 11.4),
          (81.7, 14.3), (81.96, 17.1), (82.3, 18.1), (82.6, 19.0), (82.9, 21.0), (83.2, 23.8),
          (83.5, 26.7), (83.8, 32.4), (84.0, 34.4), (84.2, 27.7), (84.4, 25.7), (84.75, 23.8),
          (85.1, 24.8), (85.4, 24.8), (85.7, 25.7), (85.9, 23.8), (86.2, 26.7), (86.5, 27.7),
          (86.8, 25.7), (87.1, 26.7), (87.4, 24.8), (87.75, 22.9), (88.1, 23.8), (88.4, 27.7),
          (88.6, 20.0), (88.8, 18.1), (89.0, 15.2), (89.2, 13.3), (89.5, 10.4), (89.8, 9.5),
          (90.0, 6.6), (90.3, 5.6), (90.6, 6.6), (90.95, 4.7), (91.4, 5.6), (91.7, 4.2), (92.0, 4.5)]

fd_hd = [(6.7, 17.6), (6.9, 19.0), (7.2, 19.5), (7.5, 19.0), (7.75, 16.7), (7.96, 19.0), (8.3, 24.8),
         (8.6, 32.4), (8.9, 42.0), (9.2, 45.8), (9.5, 48.7), (9.8, 49.7), (10.0, 51.1), (10.2, 49.7),
         (10.5, 47.8), (10.96, 46.8), (11.4, 43.9), (11.8, 43.0), (12.1, 41.1), (12.4, 43.0),
         (12.7, 42.0), (13.0, 43.4), (13.3, 43.0), (13.6, 43.9), (13.95, 43.0), (14.3, 43.9),
         (14.6, 42.0), (14.9, 40.1), (15.2, 38.2), (15.5, 36.3), (15.8, 34.4), (16.1, 33.9),
         (16.4, 33.4), (16.7, 32.4), (17.05, 30.5), (17.4, 26.7), (17.7, 21.0), (18.0, 15.2),
         (18.3, 11.4), (18.6, 8.5), (19.0, 6.6), (19.4, 5.6), (19.85, 4.7), (20.3, 4.2), (20.8, 3.5),
         (21.3, 2.8), (21.8, 2.3), (22.3, 2.0), (22.8, 2.3), (23.4, 1.8), (23.9, 1.6), (24.4, 1.3),
         (24.9, 1.3), (25.9, 1.1), (27.0, 0.7), (28.0, 0.4), (29.0, 0.3), (30.1, 0.3), (31.1, 1.1),
         (32.1, 1.6), (32.6, 1.3), (32.9, 5.6), (33.2, 13.3), (33.4, 22.9), (33.7, 30.5),
         (34.0, 35.3), (34.3, 36.7), (34.6, 38.0), (34.9, 37.7), (35.2, 38.2), (35.6, 37.7),
         (35.9, 40.1), (36.1, 43.4), (36.3, 39.1), (36.5, 36.7), (36.8, 37.2), (37.1, 36.3),
         (37.4, 35.3), (37.7, 34.4), (38.0, 33.4), (38.3, 32.4), (38.65, 30.5), (39.0, 30.0),
         (39.3, 29.6), (39.6, 30.0), (39.9, 29.6), (40.2, 28.6), (40.5, 27.7), (40.8, 25.7),
         (41.1, 23.8), (41.3, 22.9), (41.45, nan), (41.55, 18.1), (41.9, 13.3), (42.2, 9.5),
         (42.5, 6.6), (42.9, 5.2), (43.3, 4.2), (43.8, 3.3), (44.3, 3.0), (44.8, 2.3), (45.3, 2.0),
         (45.8, 1.6), (46.6, 1.3), (47.4, 1.1), (48.2, 0.9), (49.2, 0.9), (50.2, 0.7), (51.3, 0.4),
         (52.3, 0.7), (53.3, 0.9), (54.4, 2.3), (54.9, 2.0), (55.4, 2.0), (55.9, 1.6), (56.3, 1.3),
         (56.7, 5.6), (57.05, 13.3), (57.4, 19.0), (57.7, 22.9), (58.0, 24.8), (58.4, 26.7),
         (58.8, 28.6), (59.2, 30.5), (59.6, 32.4), (60.05, 33.2), (60.5, 33.4), (60.8, 32.9),
         (61.2, 32.0), (61.6, 30.5), (62.1, 29.1), (62.6, 28.1), (63.15, 27.7), (63.7, 26.7),
         (64.2, 25.7), (64.7, 23.8), (65.1, 21.0), (65.5, 17.1), (65.95, 12.3), (66.4, 8.5),
         (66.8, 6.1), (67.3, 4.7), (67.8, 3.7), (68.3, 3.0), (68.8, 2.3), (69.4, 2.0), (69.9, 2.0),
         (70.4, 2.3), (70.7, 3.3), (70.9, 1.8), (71.4, 1.3), (71.9, 1.1), (73.0, 0.7), (74.0, 0.4),
         (75.0, 0.4), (76.1, 0.7), (76.8, 1.1), (77.4, 1.3), (78.0, nan),
         (80.7, 3.7), (81.0, 9.5), (81.3, 15.2), (81.7, 18.1), (81.96, 19.0), (82.3, 20.0),
         (82.6, 21.0), (82.9, 21.9), (83.3, 22.9), (83.7, 24.8), (84.1, 25.7), (84.5, 26.2),
         (84.9, 26.9), (85.2, 26.2), (85.5, 25.3), (85.9, 24.8), (86.3, 24.3), (86.7, 24.8),
         (87.1, 23.8), (87.5, 22.9), (87.96, 21.9), (88.4, 20.5), (88.8, 19.0), (89.2, 16.2),
         (89.5, 13.3), (89.8, 9.5), (90.1, 5.6), (90.5, 3.3), (90.95, 2.8), (91.4, 3.7), (91.7, 2.8),
         (92.0, nan),
         (92.6, 5.6), (92.9, 3.7), (93.3, 2.3), (93.75, 1.8), (94.2, 1.3), (94.7, 1.1), (95.4, 1.2),
         (96.2, 1.6), (97.3, 1.6), (98.3, 1.8), (99.3, 1.6), (100.4, 1.3), (101.4, 1.6), (102.4, 1.3),
         (103.2, 1.3), (103.7, 0.7), (104.2, 0.1), (104.5, nan),
         (105.0, 21.9), (105.3, 19.0), (105.5, 17.6), (105.8, 18.6), (106.1, 19.5), (106.5, 20.5),
         (106.8, 20.0), (107.1, 19.0), (107.4, 18.6), (107.7, 18.1), (108.0, 17.6), (108.3, 17.3),
         (108.6, 17.6), (108.9, 17.1), (109.25, 17.6), (109.6, 17.1), (109.9, 17.9), (110.2, 17.6),
         (110.5, 16.7), (110.8, 15.2), (111.1, 13.3), (111.4, 11.4), (111.7, 9.5), (112.1, 7.6),
         (112.6, 5.6), (113.0, 4.2), (113.4, 3.0), (113.8, 2.0), (114.3, 1.3), (114.8, 0.9),
         (115.3, 0.7), (115.9, 0.7), (116.4, 0.9), (116.9, 0.9), (117.4, 1.1), (118.2, 1.1),
         (118.7, 0.9), (119.5, 0.7), (120.5, 0.7), (121.5, 0.7), (122.6, 0.9), (123.6, 1.1),
         (124.6, 1.1), (125.7, 1.3), (126.7, 1.3), (127.7, 1.4), (128.5, 1.8), (129.0, 5.6),
         (129.4, 11.4), (129.7, 17.1), (129.9, 22.9), (130.1, 19.0), (130.3, 17.1), (130.6, 16.2),
         (130.85, 16.7), (131.2, 18.1), (131.5, 19.0), (131.9, 20.0), (132.3, 20.2), (132.7, 20.2),
         (133.1, 20.0), (133.5, 19.8), (133.95, 20.0), (134.3, 19.5), (134.6, 19.0), (134.9, 20.0),
         (135.2, 21.9), (135.4, 24.8), (135.6, 23.8), (135.8, 20.5), (136.0, 20.0), (136.2, 22.9),
         (136.4, 21.9), (136.6, 20.0), (136.95, 17.1), (137.3, 13.3), (137.6, 10.4), (137.9, 9.5),
         (138.2, 7.6), (138.5, 5.6), (138.8, 4.2), (139.1, 3.7), (139.4, 4.5), (139.6, 6.6),
         (139.8, 3.7), (140.2, 2.3), (140.7, 1.8)]

doy_labels = ["DOY 123", "DOY 124", "DOY 125", "DOY 126", "DOY 127", "DOY 128"]
date_labels = ["5/3/2015", "5/4/2015", "5/5/2015", "5/6/2015", "5/7/2015", "5/8/2015", "5/9/2015"]
gwu_ticks = [0.05, 0.15, 0.25]
vpd_ticks = [0.1, 0.6, 1.1, 1.6]
fd_ticks = [0, 30, 60]


def split(pairs):
    a = np.array(pairs, dtype=float)
    return a[:, 0], a[:, 1]


# colours
c_mhr = "#ff0000"
c_hr = "#0cb40c"
c_gwu = "#0000c8"
c_vpd = "#c0c0c0"
c_hd = "#7a0000"

plt.rcParams["font.family"] = "DejaVu Serif"
plt.rcParams["mathtext.fontset"] = "dejavuserif"
lw = 1.35
spine_w = 1.4

fig = plt.figure(figsize=(11.49, 6.75), dpi=100)
ax = fig.add_axes([0.10531, 0.52593, 0.80853, 0.46074])
ax2 = ax.twinx()
axb = fig.add_axes([0.10531, 0.16148, 0.80853, 0.36445])

# VPD twin behind the GWU lines
ax2.set_zorder(ax.get_zorder() - 1)
ax.patch.set_visible(False)

h, v = split(vpd)
l_vpd, = ax2.plot(h, v, color=c_vpd, lw=1.4, label="VPD")
h, v = split(gwu_mhr)
l_mhr, = ax.plot(h, v, color=c_mhr, lw=lw, label="MHR")
h, v = split(gwu_hr)
l_hr, = ax.plot(h, v, color=c_hr, lw=lw, label="HR")
h, v = split(gwu_gwu)
l_gwu, = ax.plot(h, v, color=c_gwu, lw=lw, label="GWU")

h, v = split(fd_mhr)
axb.plot(h, v, color=c_mhr, lw=lw)
h, v = split(fd_hr)
axb.plot(h, v, color=c_hr, lw=lw)
h, v = split(fd_gwu)
axb.plot(h, v, color=c_gwu, lw=lw)
h, v = split(fd_hd)
l_hd, = axb.plot(h, v, color=c_hd, lw=lw, label="HD")

# limits
for a in (ax, ax2, axb):
    a.set_xlim(0, 144)
ax.set_ylim(0, 0.319)
ax2.set_ylim(0.026, 2.563)
axb.set_ylim(-0.3, 70.3)

# dotted base line of the top panel (round dots ~10 px apart)
ax.plot([1.0, 144], [0.0072, 0.0072], color="black", lw=2.6,
        linestyle=(0, (0.01, 2.75)), dash_capstyle="round", zorder=5, clip_on=False)

# spines
for a in (ax, ax2, axb):
    for s in a.spines.values():
        s.set_linewidth(spine_w)
ax.spines["bottom"].set_visible(False)
ax2.spines["bottom"].set_visible(False)
ax2.spines["left"].set_visible(False)
axb.spines["top"].set_visible(False)

tick_kw = dict(direction="out", length=7.5, width=1.1, labelsize=16.5)
ax.tick_params(axis="x", bottom=False, labelbottom=False)
ax.tick_params(axis="y", pad=8, **tick_kw)
ax.set_yticks(gwu_ticks)
ax.set_yticklabels(["%.2f" % t for t in gwu_ticks])
ax2.tick_params(axis="y", pad=8.5, **tick_kw)
ax2.set_yticks(vpd_ticks)
ax2.set_yticklabels(["%.1f" % t for t in vpd_ticks])

axb.set_xticks(np.arange(0, 145, 24))
axb.set_xticklabels(date_labels)
axb.tick_params(axis="x", pad=11, **tick_kw)
axb.tick_params(axis="y", pad=8, **tick_kw)
axb.set_yticks(fd_ticks)

# axis labels
ax.set_ylabel("Average GWU (L)", fontsize=18.5)
ax.yaxis.set_label_coords(-0.094, 0.38)
ax2.set_ylabel("VPD (KPa)", fontsize=18.5)
ax2.yaxis.set_label_coords(1.077, 0.38)
axb.set_ylabel("Average F$_{\\rm d}$", fontsize=18.5)
axb.yaxis.set_label_coords(-0.086, 0.5)
axb.set_xlabel("Date", fontsize=18.5)
axb.xaxis.set_label_coords(0.5, -0.345)

# day-of-year labels
doy_x = [10.8, 36.3, 61.1, 84.3, 109.8, 134.7]
trans = mtransforms.blended_transform_factory(ax.transData, ax.transAxes)
for x, t in zip(doy_x, doy_labels):
    ax.text(x, 0.91, t, transform=trans, ha="center", va="center",
            fontsize=15, family="Lato")

# legend
ax.legend([l_mhr, l_hr, l_gwu, l_vpd, l_hd], ["MHR", "HR", "GWU", "VPD", "HD"],
          ncol=5, frameon=False, fontsize=15.5, loc="center left",
          bbox_to_anchor=(0.182, 0.756), borderpad=0, handlelength=2.65,
          handletextpad=0.7, columnspacing=0.95, borderaxespad=0)

fig.savefig("out.png", dpi=100)
